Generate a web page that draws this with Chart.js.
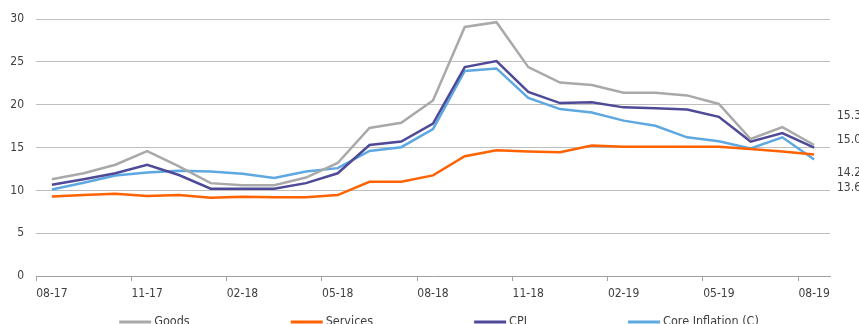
<!DOCTYPE html>
<html>
<head>
<meta charset="utf-8">
<script src="https://cdn.jsdelivr.net/npm/chart.js@4.4.1/dist/chart.umd.min.js"></script>
<style>
    html, body { margin: 0; padding: 0; background: #fff; overflow: hidden; }
    #inflation_chart { display: block; }
</style>
</head>
<body>
<canvas id="inflation_chart" width="859" height="324"></canvas>
<script>
// 月份（每三个月显示一次标签）
const months = [
    "08-17", "09-17", "10-17", "11-17", "12-17", "01-18", "02-18", "03-18", "04-18",
    "05-18", "06-18", "07-18", "08-18", "09-18", "10-18", "11-18", "12-18", "01-19",
    "02-19", "03-19", "04-19", "05-19", "06-19", "07-19", "08-19",
];

const goods = [
    11.3, 12.0, 13.0, 14.6, 12.8, 10.85, 10.6, 10.6, 11.5, 13.2, 17.3, 17.9, 20.5,
    29.1, 29.65, 24.4, 22.6, 22.3, 21.4, 21.4, 21.1, 20.1, 16.0, 17.4, 15.3,
];
const services = [
    9.3, 9.45, 9.6, 9.35, 9.45, 9.15, 9.25, 9.2, 9.2, 9.45, 11.0, 11.0, 11.75,
    14.0, 14.7, 14.55, 14.45, 15.25, 15.1, 15.1, 15.1, 15.1, 14.85, 14.55, 14.2,
];
const cpi = [
    10.65, 11.3, 12.0, 13.0, 11.8, 10.2, 10.2, 10.2, 10.85, 12.0, 15.3, 15.7, 17.8,
    24.4, 25.1, 21.5, 20.2, 20.3, 19.7, 19.6, 19.45, 18.6, 15.7, 16.7, 15.0,
];
const core = [
    10.1, 10.9, 11.75, 12.1, 12.3, 12.2, 11.95, 11.45, 12.2, 12.6, 14.6, 15.05, 17.15,
    23.95, 24.25, 20.8, 19.5, 19.1, 18.15, 17.55, 16.2, 15.75, 14.9, 16.2, 13.6,
];

const yTicks = [0, 5, 10, 15, 20, 25, 30];

const FONT = "'DejaVu Sans Condensed', 'DejaVu Sans', sans-serif";
const TEXT_COLOR = "#404040";

// 右侧末值标签的垂直错开量（像素）
const endLabelShift = [-29, 18, -8, 28];

// 末值标签：画在绘图区右侧
const endLabelPlugin = {
    id: "endLabelPlugin",
    afterDatasetsDraw(chart) {
        const { ctx, chartArea, scales } = chart;
        ctx.save();
        ctx.font = "12px " + FONT;
        ctx.fillStyle = TEXT_COLOR;
        ctx.textAlign = "left";
        ctx.textBaseline = "middle";
        chart.data.datasets.forEach((ds, i) => {
            const last = ds.data[ds.data.length - 1];
            const y = scales.y.getPixelForValue(last) + endLabelShift[i];
            ctx.fillText(last.toFixed(1), chartArea.right + 7, y);
        });
        ctx.restore();
    },
};

// 底部图例：线段 + 文字，整体居中（略偏右）
const lineLegendPlugin = {
    id: "lineLegendPlugin",
    afterDraw(chart) {
        const { ctx, chartArea } = chart;
        const lineLen = 32;
        const gap = 3;
        const spacing = 101;
        ctx.save();
        ctx.font = "12.5px " + FONT;
        const items = chart.data.datasets.map((ds) => ({
            label: ds.label,
            color: ds.borderColor,
            width: lineLen + gap + ctx.measureText(ds.label).width,
        }));
        const total = items.reduce((s, it) => s + it.width, 0) + spacing * (items.length - 1);
        let x = (chartArea.left + chartArea.right) / 2 - total / 2 + 6;
        const y = chartArea.bottom + 46;
        items.forEach((it) => {
            ctx.strokeStyle = it.color;
            ctx.lineWidth = 3;
            ctx.beginPath();
            ctx.moveTo(x, y);
            ctx.lineTo(x + lineLen, y);
            ctx.stroke();
            ctx.fillStyle = TEXT_COLOR;
            ctx.textBaseline = "middle";
            ctx.fillText(it.label, x + lineLen + gap, y);
            x += it.width + spacing;
        });
        ctx.restore();
    },
};

function makeSeries(label, data, color) {
    return {
        label: label,
        data: data,
        borderColor: color,
        backgroundColor: color,
        borderWidth: 2.5,
        pointRadius: 0,
        tension: 0,
        fill: false,
    };
}

Chart.defaults.font.family = FONT;
Chart.defaults.font.size = 12;
Chart.defaults.color = TEXT_COLOR;

new Chart(document.getElementById("inflation_chart").getContext("2d"), {
    type: "line",
    data: {
        labels: months,
        datasets: [
            makeSeries("Goods", goods, "#a9a9a9"),
            makeSeries("Services", services, "#ff6200"),
            makeSeries("CPI", cpi, "#4f4a97"),
            makeSeries("Core Inflation (C)", core, "#5ea8e2"),
        ],
    },
    options: {
        responsive: false,
        animation: false,
        layout: { padding: { left: 0, right: 29, top: 18, bottom: 22 } },
        plugins: {
            legend: { display: false },
            tooltip: { enabled: false },
        },
        scales: {
            x: {
                type: "category",
                offset: true,
                afterFit(scale) {
                    scale.height = 26;
                },
                border: { display: true, color: "#a0a0a0", width: 1 },
                grid: {
                    offset: true,
                    drawOnChartArea: false,
                    drawTicks: true,
                    tickLength: 5,
                    color: (c) => (c.index % 3 === 0 ? "#a0a0a0" : "rgba(0,0,0,0)"),
                },
                ticks: {
                    autoSkip: false,
                    maxRotation: 0,
                    padding: 6,
                    callback: function (value, index) {
                        return index % 3 === 0 ? months[index] : "";
                    },
                },
            },
            y: {
                min: 0,
                max: 30,
                afterFit(scale) {
                    scale.width = 36;
                },
                afterBuildTicks(scale) {
                    scale.ticks = yTicks.map((v) => ({ value: v }));
                },
                border: { display: false },
                grid: {
                    color: (c) => (c.tick && c.tick.value === 0 ? "rgba(0,0,0,0)" : "#bebebe"),
                    lineWidth: 1,
                    drawTicks: false,
                },
                ticks: { padding: 12 },
            },
        },
    },
    plugins: [endLabelPlugin, lineLegendPlugin],
});
</script>
</body>
</html>
